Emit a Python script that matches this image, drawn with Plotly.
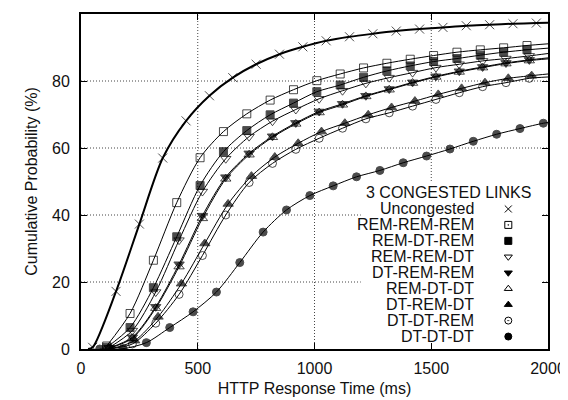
import plotly.graph_objects as go

# ---------------- data ----------------
uncong_x = [30, 50, 150, 250, 350, 450, 550, 650, 750, 850, 950, 1050, 1150, 1250, 1350, 1450, 1550, 1650, 1750, 1850, 1950, 2000]
uncong_y = [0, 0.5, 17.2, 37.3, 57.0, 68.1, 75.6, 81.0, 85.0, 88.0, 90.2, 92.0, 93.2, 94.1, 94.9, 95.5, 96.0, 96.5, 96.8, 97.1, 97.3, 97.4]

x110 = [110, 210, 310, 410, 510, 610, 710, 810, 910, 1010, 1110, 1210, 1310, 1410, 1510, 1610, 1710, 1810, 1910, 2000]
x120 = [120, 220, 320, 420, 520, 620, 720, 820, 920, 1020, 1120, 1220, 1320, 1420, 1520, 1620, 1720, 1820, 1920, 2000]
x130 = [130, 230, 330, 430, 530, 630, 730, 830, 930, 1030, 1130, 1230, 1330, 1430, 1530, 1630, 1730, 1830, 1930, 2000]
x080 = [80, 180, 280, 380, 480, 580, 680, 780, 880, 980, 1080, 1180, 1280, 1380, 1480, 1580, 1680, 1780, 1880, 1980, 2000]

rem_rem_rem = [0.9, 10.6, 26.5, 43.7, 57.1, 64.9, 70.2, 74.3, 77.4, 80.1, 82.1, 83.9, 85.3, 86.5, 87.6, 88.6, 89.3, 89.9, 90.6, 91.1]
rem_dt_rem = [0.5, 6.4, 18.3, 33.5, 48.8, 58.9, 65.2, 69.9, 73.4, 76.8, 78.8, 81.1, 83.0, 84.5, 85.8, 86.7, 87.7, 88.6, 89.3, 89.8]
rem_rem_dt = [0.4, 5.5, 17.0, 32.5, 47.0, 56.8, 63.4, 68.0, 71.5, 74.7, 77.1, 79.3, 81.0, 82.5, 84.0, 85.0, 86.0, 86.7, 87.5, 88.2]
dt_rem_rem = [0.3, 3.5, 12.6, 25.3, 39.8, 51.3, 58.4, 63.5, 67.5, 70.9, 73.2, 75.6, 77.6, 79.6, 81.4, 82.9, 84.2, 85.4, 86.3, 86.9]
rem_dt_dt = [0.2, 3.2, 12.2, 24.6, 39.0, 50.8, 58.0, 63.2, 67.2, 70.6, 72.9, 75.4, 77.4, 79.4, 81.2, 82.7, 84.0, 85.2, 86.1, 86.6]
dt_rem_dt = [0.1, 2.5, 9.6, 19.5, 31.5, 43.3, 51.6, 57.3, 61.4, 64.9, 67.4, 69.9, 72.1, 74.0, 76.0, 77.8, 79.5, 80.8, 81.6, 82.1]
dt_dt_rem = [0.1, 1.5, 7.7, 16.3, 27.9, 40.0, 49.7, 55.4, 59.6, 62.9, 65.9, 68.7, 70.5, 72.5, 74.5, 76.5, 78.3, 79.5, 80.8, 81.2]
dt_dt_dt = [0, 0.1, 1.9, 6.4, 11.1, 17.0, 25.8, 34.9, 41.5, 45.8, 48.7, 51.4, 53.3, 55.6, 57.6, 59.7, 62.0, 64.1, 65.8, 67.4, 67.6]

x_ticks = [0, 500, 1000, 1500, 2000]
y_ticks = [0, 20, 40, 60, 80, 100]

legend_title = "3 CONGESTED LINKS"
names = ["Uncongested", "REM-REM-REM", "REM-DT-REM", "REM-REM-DT", "DT-REM-REM",
         "REM-DT-DT", "DT-REM-DT", "DT-DT-REM", "DT-DT-DT"]

# (x, y, plot symbol, legend symbol, line width)
styles = [
    (uncong_x, uncong_y, "x-thin-open", "x-thin-open", 2),
    (x110, rem_rem_rem, "square-open", "square-open-dot", 1),
    (x110, rem_dt_rem, "square", "square", 1),
    (x120, rem_rem_dt, "triangle-down-open", "triangle-down-open", 1),
    (x120, dt_rem_rem, "triangle-down", "triangle-down", 1),
    (x120, rem_dt_dt, "triangle-up-open", "triangle-up-open", 1),
    (x130, dt_rem_dt, "triangle-up", "triangle-up", 1),
    (x120, dt_dt_rem, "circle-open", "circle-open-dot", 1),
    (x080, dt_dt_dt, "circle", "circle", 1),
]

FONT = "Liberation Sans, Arial, Helvetica, sans-serif"
FS = 16
XMAX, YMAX = 2000, 100

fig = go.Figure()

# dotted grid + opaque key box (drawn underneath the curves)
for v in x_ticks[1:-1]:
    fig.add_shape(type="line", xref="x", yref="paper", x0=v, x1=v, y0=0, y1=1,
                  line=dict(color="#444", width=1, dash="1px,2px"), layer="below")
for v in y_ticks[1:-1]:
    fig.add_shape(type="line", xref="paper", yref="y", x0=0, x1=1, y0=v, y1=v,
                  line=dict(color="#444", width=1, dash="1px,2px"), layer="below")
fig.add_shape(type="rect", xref="paper", yref="paper", x0=0.599, x1=0.985, y0=0.0, y1=0.5,
              fillcolor="white", line=dict(width=0), layer="below")

for name, (xs, ys, sym, _, lw) in zip(names, styles):
    sizes = []
    for i in range(len(xs)):
        if xs[i] >= XMAX or (name == "Uncongested" and i == 0):
            sizes.append(0)
        else:
            sizes.append(9 if ("triangle" in sym or sym.startswith("x")) else 8)
    fig.add_trace(go.Scatter(
        x=xs, y=ys, mode="lines+markers", name=name, showlegend=False,
        line=dict(color="black", width=lw, shape="spline", smoothing=0.8),
        marker=dict(symbol=sym, size=sizes, color="black",
                    line=dict(color="black", width=1)),
    ))

# ---------------- key (gnuplot style: label, then symbol on the right) ----------------
key_sym_frac = 0.915
key_lab_frac = 0.845
key_top = 0.418
key_step = 0.0476
leg_frac_y = [key_top - i * key_step for i in range(len(names))]
fig.add_trace(go.Scatter(
    x=[key_sym_frac * XMAX] * len(names), y=[f * YMAX for f in leg_frac_y],
    mode="markers", showlegend=False, hoverinfo="skip",
    marker=dict(symbol=[s[3] for s in styles], size=7, color="black",
                line=dict(color="black", width=1)),
))
for name, fy in zip(names, leg_frac_y):
    fig.add_annotation(xref="paper", yref="paper", x=key_lab_frac, y=fy, text=name,
                       showarrow=False, xanchor="right", yanchor="middle",
                       font=dict(family=FONT, size=FS, color="#111"))
fig.add_annotation(xref="paper", yref="paper", x=0.787, y=key_top + key_step + 0.002,
                   text=legend_title, showarrow=False, xanchor="center", yanchor="middle",
                   font=dict(family=FONT, size=FS, color="#111"))

axis_common = dict(
    showline=True, linecolor="black", linewidth=2, mirror="allticks",
    ticks="inside", ticklen=6, tickcolor="black", tickwidth=1,
    showgrid=False, zeroline=False, automargin=False,
    tickfont=dict(family=FONT, size=FS, color="#111"),
)

# the page places the figure 8 px in from the window's top-left corner,
# so the figure is 8 px smaller and its margins 8 px tighter on those sides
fig.update_layout(
    width=560, height=392,
    margin=dict(l=73, r=20, t=6, b=51, autoexpand=False),
    paper_bgcolor="white", plot_bgcolor="white",
    xaxis=dict(range=[0, XMAX], tickvals=x_ticks, ticktext=[str(v) for v in x_ticks],
               ticklabelstandoff=4,
               title=dict(text="HTTP Response Time (ms)", font=dict(family=FONT, size=FS, color="#111"), standoff=7),
               **axis_common),
    yaxis=dict(range=[0, YMAX], tickvals=y_ticks, ticktext=[str(v) for v in y_ticks],
               ticklabelstandoff=6,
               title=dict(text="Cumulative Probability (%)", font=dict(family=FONT, size=FS, color="#111"), standoff=10),
               **axis_common),
    showlegend=False,
)

fig.write_html("out.html")
